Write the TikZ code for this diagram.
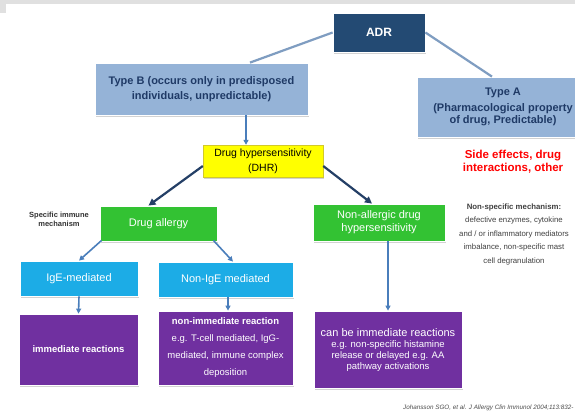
\documentclass[tikz,border=0pt]{standalone}
\usepackage{fontspec}
\setmainfont{Liberation Sans}
\usetikzlibrary{arrows.meta,shadows}

\definecolor{adrnavy}{HTML}{234A73}
\definecolor{typeblue}{HTML}{95B3D7}
\definecolor{typetext}{HTML}{1F3A66}
\definecolor{dhryellow}{HTML}{FFFF00}
\definecolor{allgreen}{HTML}{33C233}
\definecolor{igecyan}{HTML}{1CACE6}
\definecolor{reacpurple}{HTML}{7030A0}
\definecolor{linksteel}{HTML}{4A7EBB}
\definecolor{linkgray}{HTML}{7F9DC1}
\definecolor{arrownavy}{HTML}{243F66}

\tikzset{
  box/.style={rectangle, align=center, inner sep=2pt, draw=white, line width=0.8pt,
    drop shadow={opacity=0.35, shadow xshift=1.2pt, shadow yshift=-1.5pt}},
  typebox/.style={box, fill=typeblue, text=typetext, font=\bfseries\fontsize{11}{15.5}\selectfont},
  greenbox/.style={box, fill=allgreen, text=white, font=\fontsize{11}{13}\selectfont},
  cyanbox/.style={box, fill=igecyan, text=white, font=\fontsize{11}{13}\selectfont},
  purplebox/.style={box, fill=reacpurple, text=white, font=\fontsize{9.5}{17}\selectfont},
  link/.style={draw=linkgray, line width=2.2pt},
  feed/.style={draw=linksteel, line width=1.6pt, -{Triangle[length=5pt,width=5pt]}},
  split/.style={draw=arrownavy, line width=2.2pt, -{Triangle[length=7pt,width=7pt]}},
}

\begin{document}
\begin{tikzpicture}[x=1pt,y=-1pt]
    \useasboundingbox (0,0) rectangle (575,415);
    \fill[white] (0,0) rectangle (575,415);
    \fill[black!12] (0,0) rectangle (575,4);
    \fill[black!12] (0,0) rectangle (6,13);

    % top level
    \node[box, fill=adrnavy, text=white, font=\bfseries\fontsize{12}{14}\selectfont,
      minimum width=92pt, minimum height=39pt] (adr) at (379,32.5) {ADR};
    \node[typebox, minimum width=213pt, minimum height=52pt] (typeB) at (201.5,89)
      {Type B (occurs only in predisposed\\individuals, unpredictable)};
    \node[typebox, font=\bfseries\fontsize{11}{12.5}\selectfont, minimum width=172pt, minimum height=60pt]
      (typeA) at (503,107) {Type A\\[3pt](Pharmacological property\\of drug, Predictable)};
    \node[text=red, font=\bfseries\fontsize{11.5}{13}\selectfont, align=center] (side) at (513,162)
      {Side effects, drug\\interactions, other};

    % hypersensitivity
    \node[box, fill=dhryellow, draw=yellow!80!black, line width=0.4pt,
      font=\fontsize{10.5}{15}\selectfont, minimum width=120pt, minimum height=32pt] (dhr) at (263,161)
      {Drug hypersensitivity\\(DHR)};
    \node[greenbox, minimum width=117pt, minimum height=35pt] (allergy) at (158.5,223.5) {Drug allergy};
    \node[greenbox, minimum width=132pt, minimum height=37pt] (nonallergic) at (379,222.5)
      {Non-allergic drug\\hypersensitivity};
    \node[font=\bfseries\fontsize{7.5}{9}\selectfont, text=black!80, align=center] (specific) at (59,219)
      {Specific immune\\mechanism};
    \node[font=\fontsize{7.8}{13.5}\selectfont, text=black!75, align=center] (nonspecific) at (514,234)
      {\textbf{Non-specific mechanism:}\\defective enzymes, cytokine\\and / or inflammatory mediators\\imbalance, non-specific mast\\cell degranulation};

    % mechanisms
    \node[cyanbox, minimum width=118pt, minimum height=35pt] (ige) at (79,278.5) {IgE-mediated};
    \node[cyanbox, minimum width=135pt, minimum height=35pt] (nonige) at (225.5,279.5) {Non-IgE mediated};

    % reactions
    \node[purplebox, font=\bfseries\fontsize{9.5}{11}\selectfont, minimum width=119pt, minimum height=71pt]
      (immediate) at (78.5,349.5) {immediate reactions};
    \node[purplebox, minimum width=135pt, minimum height=74pt] (nonimm) at (225.5,348)
      {\textbf{non-immediate reaction}\\e.g. T-cell mediated, IgG-\\mediated, immune complex\\deposition};
    \node[purplebox, font=\fontsize{9.5}{11}\selectfont, minimum width=148pt, minimum height=77pt]
      (canbe) at (388,349.5)
      {{\fontsize{11}{13}\selectfont can be immediate reactions}\\e.g. non-specific histamine\\release or delayed e.g. AA\\pathway activations};

    \node[font=\itshape\fontsize{6.3}{7}\selectfont, text=black!70, anchor=east] (cite) at (577,408)
      {Johansson SGO, et al. J Allergy Clin Immunol 2004;113:832-};

    % connectors
    \draw[link] (adr.west) -- ([xshift=48.5pt]typeB.north);
    \draw[link] (adr.east) -- ([xshift=-11pt]typeA.north);
    \draw[feed] ([xshift=44.5pt]typeB.south) -- ([xshift=-17pt]dhr.north);
    \draw[split] ([yshift=-5pt]dhr.west) -- ([xshift=-10pt]allergy.north);
    \draw[split] ([yshift=-5pt]dhr.east) -- ([xshift=-7pt]nonallergic.north);
    \draw[feed] ([xshift=2pt,yshift=1pt]allergy.south west) -- (ige.north);
    \draw[feed] ([xshift=-4pt,yshift=1pt]allergy.south east) -- ([xshift=7.5pt]nonige.north);
    \draw[feed] (ige.south) -- (immediate.north);
    \draw[feed] ([xshift=2.5pt]nonige.south) -- ([xshift=2.5pt]nonimm.north);
    \draw[feed] ([xshift=9pt]nonallergic.south) -- ([xshift=0pt]canbe.north);
\end{tikzpicture}
\end{document}
